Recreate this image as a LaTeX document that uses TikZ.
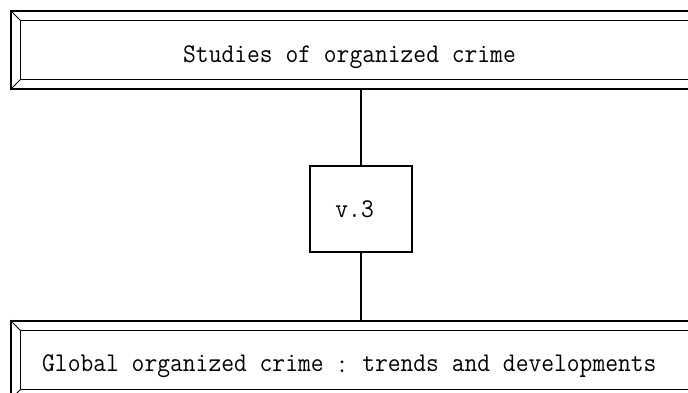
\documentclass[tikz,border=0pt]{standalone}
\usepackage{fontspec}
\setmonofont[FakeStretch=0.92]{Latin Modern Mono}
\newfontfamily\cjk{Noto Sans CJK JP}

% inner frame and bevel corners of a banner node
\newcommand{\bevelframe}[1]{%
    \draw[line width=1.2pt] ([shift={(10.5,10.5)}]#1.north west) rectangle ([shift={(-10.5,-10.5)}]#1.south east);
    \draw[line width=0.8pt] (#1.north west) -- ++(10.5,10.5);
    \draw[line width=0.8pt] (#1.south west) -- ++(10.5,-10.5);
    \draw[line width=0.8pt] (#1.north east) -- ++(-10.5,10.5);
    \draw[line width=0.8pt] (#1.south east) -- ++(-10.5,-10.5);
}

\begin{document}
\begin{tikzpicture}[
        x=1pt, y=-1pt,
        banner/.style={draw, line width=1.6pt, minimum width=689pt, minimum height=78pt, inner sep=0pt},
        volbox/.style={draw, line width=1.6pt, minimum width=102pt, minimum height=86pt, inner sep=0pt},
        bannertext/.style={font=\ttfamily\fontsize{27}{27}\selectfont, inner sep=0pt, anchor=base west}
    ]
        \useasboundingbox (0,0) rectangle (688,392);

        \node[banner] (series) at (355.5,50) {};
        \node[banner] (book) at (355.5,360) {};
        \node[volbox, font=\ttfamily\fontsize{27}{27}\selectfont] (vol) at (361,209) {v.3\hphantom{0}};

        \bevelframe{series}
        \bevelframe{book}

        \node[bannertext] (seriestext) at (183,62) {Studies of organized crime};
        \node[bannertext] (booktext) at (42,371) {Global organized crime \makebox[0.483em]{\raisebox{-2pt}{\cjk\fontsize{18}{18}\selectfont ：}} trends and developments};

        \draw[line width=1.4pt] (vol.north) -- (vol.north |- series.south);
        \draw[line width=1.4pt] (vol.south) -- (vol.south |- book.north);
    \end{tikzpicture}
\end{document}
